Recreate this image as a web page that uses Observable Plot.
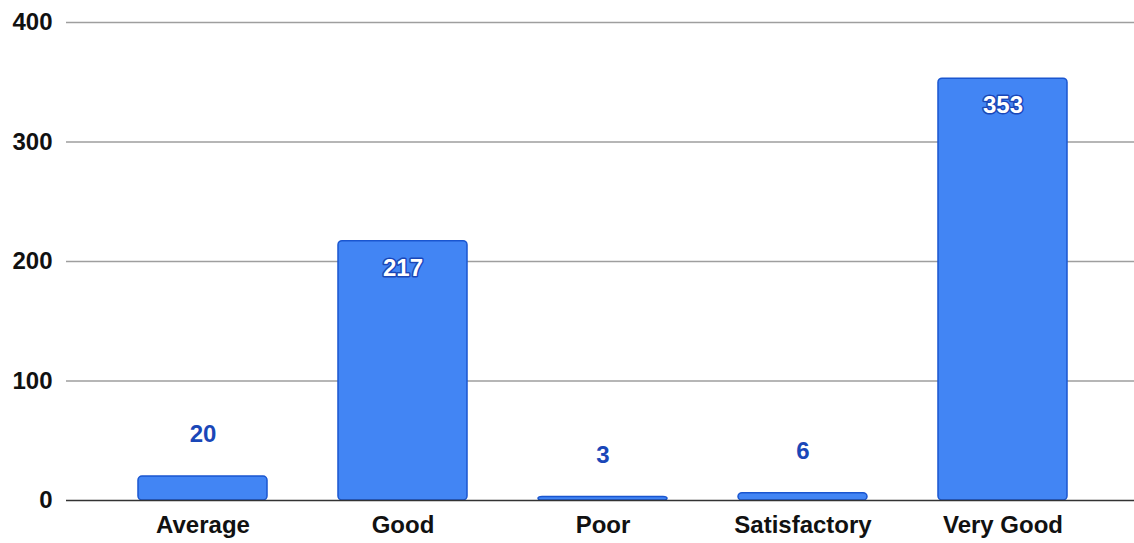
<!DOCTYPE html>
<html>
<head>
<meta charset="utf-8">
<script src="https://cdn.jsdelivr.net/npm/d3@7"></script>
<script src="https://cdn.jsdelivr.net/npm/@observablehq/plot@0.6"></script>
<style>
  html, body { margin: 0; padding: 0; background: #fff; }
  #chart svg { display: block; font-family: "Liberation Sans", Arial, sans-serif; }
</style>
</head>
<body>
<div id="chart"></div>
<script>
const categories = ["Average", "Good", "Poor", "Satisfactory", "Very Good"];
const counts = [20, 217, 3, 6, 353];
const yTicks = [0, 100, 200, 300, 400];

const data = categories.map((c, i) => ({category: c, value: counts[i]}));
const inside = data.filter(d => d.value > 100);
const outside = data.filter(d => d.value <= 100);

const chart = Plot.plot({
  width: 1134,
  height: 543,
  marginTop: 22,
  marginBottom: 43,
  marginLeft: 66,
  marginRight: 0,
  style: {fontFamily: "'Liberation Sans', Arial, sans-serif", background: "#fff"},
  x: {domain: categories, paddingInner: 0.357, paddingOuter: 0.18, range: [101, 1104], label: null},
  y: {domain: [0, 400], label: null},
  marks: [
    Plot.ruleY(yTicks.filter(t => t > 0), {stroke: "#9e9e9e", strokeWidth: 1.3}),
    Plot.barY(data, {x: "category", y: "value", fill: "#4285f4", stroke: "#1a56d0", strokeWidth: 1.5, rx: 4}),
    Plot.ruleY([0], {stroke: "#333", strokeWidth: 1.5}),
    Plot.text(inside, {x: "category", y: "value", text: d => String(d.value), dy: 27,
      fill: "#fff", stroke: "#1a47b8", strokeWidth: 3, paintOrder: "stroke",
      fontSize: 24, fontWeight: "bold"}),
    Plot.text(outside, {x: "category", y: "value", text: d => String(d.value), dy: -42,
      fill: "#1a47b8", fontSize: 24, fontWeight: "bold"}),
    Plot.axisY({ticks: yTicks, tickSize: 0, tickPadding: 14, fontSize: 24, fontWeight: "bold", fill: "#111", label: null}),
    Plot.axisX({tickSize: 0, tickPadding: 15, fontSize: 24, fontWeight: "bold", fill: "#111", label: null})
  ]
});
document.getElementById("chart").appendChild(chart);
</script>
</body>
</html>
